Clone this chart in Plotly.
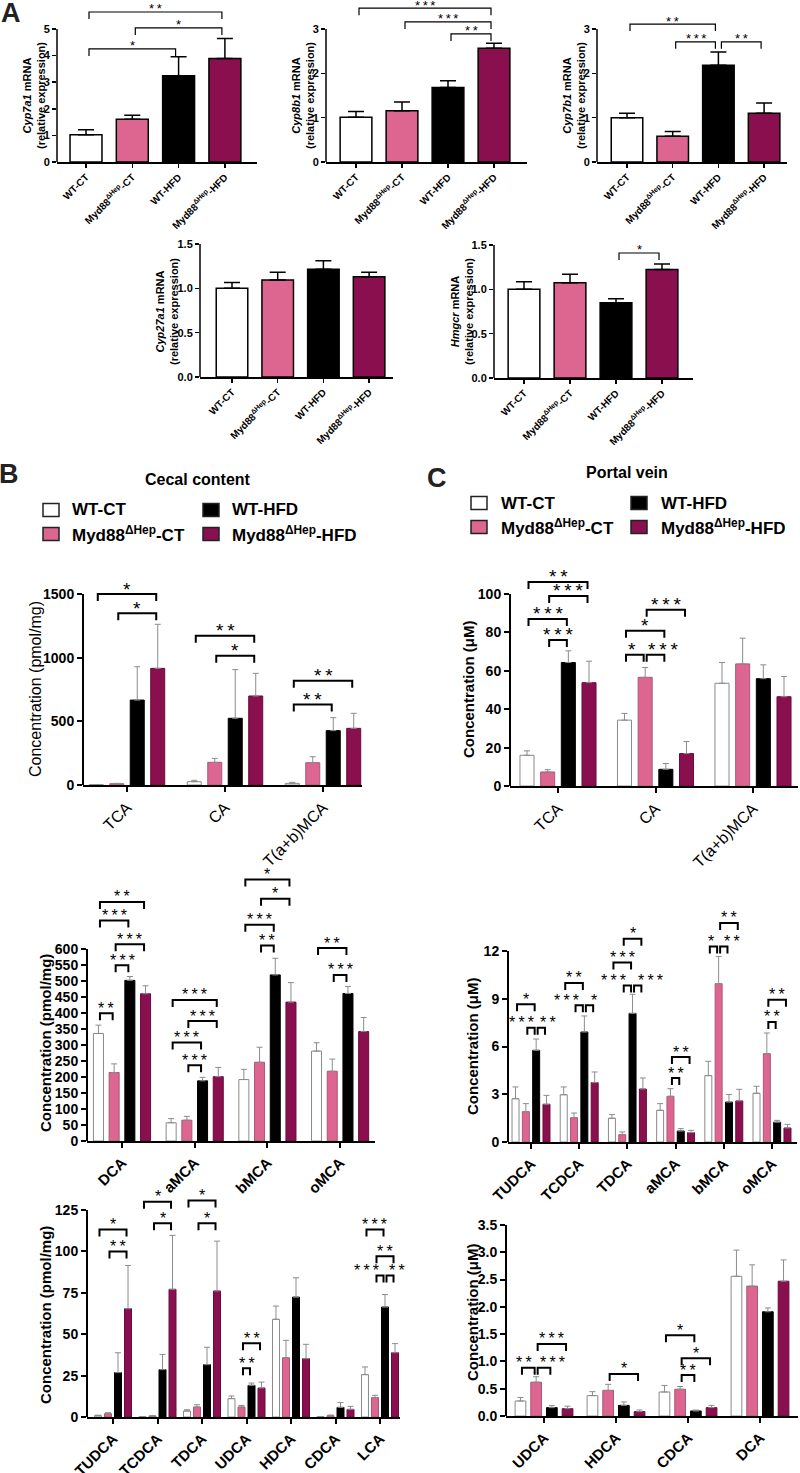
import plotly.graph_objects as go

W, H = 800, 1473
FONT = "Liberation Sans, Arial, Helvetica, sans-serif"

# ---------------- data ----------------
series_names = ["WT-CT", "Myd88ΔHep-CT", "WT-HFD", "Myd88ΔHep-HFD"]
series_ticks = ["WT-CT", "Myd88<sup>ΔHep</sup>-CT", "WT-HFD", "Myd88<sup>ΔHep</sup>-HFD"]
fill_colors = ["#ffffff", "#dd6690", "#000000", "#8a0f4e"]
edge_colors_bc = ["#8a8a8a", "#a8587a", "#000000", "#6a0b3c"]

# Panel A: relative mRNA expression (mean, SEM), significance (i, j, height, label)
cyp7a1_mean = [1.02, 1.61, 3.24, 3.89]
cyp7a1_sem = [0.19, 0.15, 0.72, 0.75]
cyp7a1_sig = [(0, 3, 5.64, "**"), (1, 3, 5.04, "*"), (0, 2, 4.25, "*")]

cyp8b1_mean = [1.01, 1.155, 1.68, 2.565]
cyp8b1_sem = [0.13, 0.20, 0.15, 0.115]
cyp8b1_sig = [(0, 3, 3.47, "***"), (1, 3, 3.16, "***"), (2, 3, 2.89, "**")]

cyp7b1_mean = [1.00, 0.58, 2.18, 1.10]
cyp7b1_sem = [0.10, 0.11, 0.30, 0.23]
cyp7b1_sig = [(0, 2, 3.11, "**"), (1, 2, 2.71, "***"), (2, 3, 2.71, "**")]

cyp27a1_mean = [1.00, 1.095, 1.215, 1.13]
cyp27a1_sem = [0.065, 0.085, 0.095, 0.05]
cyp27a1_sig = []

hmgcr_mean = [1.00, 1.074, 0.848, 1.225]
hmgcr_sem = [0.085, 0.096, 0.045, 0.06]
hmgcr_sig = [(2, 3, 1.41, "*")]

# Panel B/C: bile acids; significance (group, series_a, series_b, height, label, label_dx_px)
cecal1_cats = ["TCA", "CA", "T(a+b)MCA"]
cecal1_wt_ct = [3, 26, 13]
cecal1_wt_ct_sem = [1, 11, 8]
cecal1_myd_ct = [10, 178, 175]
cecal1_myd_ct_sem = [3, 31, 47]
cecal1_wt_hfd = [667, 524, 427]
cecal1_wt_hfd_sem = [262, 382, 102]
cecal1_myd_hfd = [916, 699, 445]
cecal1_myd_hfd_sem = [346, 178, 118]
cecal1_sig = [(0, 0, 3, 1500, "*", 0), (0, 1, 3, 1348, "*", 0), (1, 0, 3, 1173, "**", 0),
              (1, 1, 3, 1016, "*", 0), (2, 0, 3, 819, "**", 0), (2, 0, 2, 633, "**", 0)]

portal1_cats = ["TCA", "CA", "T(a+b)MCA"]
portal1_wt_ct = [16.0, 34.3, 53.5]
portal1_wt_ct_sem = [2.3, 3.5, 10.8]
portal1_myd_ct = [7.3, 56.6, 63.6]
portal1_myd_ct_sem = [1.2, 5.1, 13.4]
portal1_wt_hfd = [64.3, 8.7, 55.9]
portal1_wt_hfd_sem = [6.1, 3.0, 7.2]
portal1_myd_hfd = [53.8, 16.9, 46.5]
portal1_myd_hfd_sem = [11.2, 6.3, 10.5]
portal1_sig = [(0, 0, 3, 106.3, "**", 0), (0, 1, 3, 99.0, "***", 0), (0, 0, 2, 87.0, "***", 0),
               (0, 1, 2, 76.1, "***", 0), (1, 1, 3, 91.8, "***", 0), (1, 0, 2, 80.8, "*", 0),
               (1, 0, 1, 68.3, "*", -3), (1, 1, 2, 68.3, "***", 7)]

cecal2_cats = ["DCA", "aMCA", "bMCA", "oMCA"]
cecal2_wt_ct = [336, 57, 192, 281]
cecal2_wt_ct_sem = [26, 13, 32, 26]
cecal2_myd_ct = [214, 65, 246, 218]
cecal2_myd_ct_sem = [27, 12, 47, 38]
cecal2_wt_hfd = [502, 188, 519, 461]
cecal2_wt_hfd_sem = [12, 11, 52, 22]
cecal2_myd_hfd = [460, 201, 434, 342]
cecal2_myd_hfd_sem = [25, 29, 61, 44]
cecal2_sig = [(0, 0, 3, 747, "**", 0), (0, 0, 2, 689, "***", 0), (0, 1, 3, 615, "***", 0),
              (0, 1, 2, 549, "***", 0), (0, 0, 1, 399, "**", 0),
              (1, 0, 3, 441, "***", 0), (1, 1, 3, 375, "***", 0), (1, 0, 2, 308, "***", 0),
              (1, 1, 2, 237, "***", 0),
              (2, 0, 3, 817, "*", 0), (2, 1, 3, 757, "*", 0), (2, 0, 2, 676, "***", 0),
              (2, 1, 2, 611, "**", 0),
              (3, 0, 2, 603, "**", 0), (3, 1, 2, 519, "***", 0)]

portal2_cats = ["TUDCA", "TCDCA", "TDCA", "aMCA", "bMCA", "oMCA"]
portal2_wt_ct = [2.72, 2.97, 1.49, 1.99, 4.17, 3.06]
portal2_wt_ct_sem = [0.74, 0.49, 0.23, 0.42, 0.90, 0.44]
portal2_myd_ct = [1.91, 1.53, 0.46, 2.87, 9.95, 5.55]
portal2_myd_ct_sem = [0.50, 0.29, 0.17, 0.48, 1.71, 1.30]
portal2_wt_hfd = [5.76, 6.91, 8.08, 0.69, 2.51, 1.24]
portal2_wt_hfd_sem = [0.71, 1.01, 1.20, 0.15, 0.48, 0.12]
portal2_myd_hfd = [2.37, 3.73, 3.33, 0.59, 2.58, 0.88]
portal2_myd_hfd_sem = [0.56, 0.67, 0.69, 0.14, 0.73, 0.23]
portal2_sig = [(0, 0, 2, 8.65, "*", 0), (0, 1, 2, 7.18, "***", -10), (0, 2, 3, 7.18, "**", 7),
               (1, 0, 2, 9.99, "**", 0), (1, 1, 2, 8.59, "***", -13), (1, 2, 3, 8.59, "*", 4),
               (2, 1, 3, 12.77, "*", 0), (2, 0, 2, 11.27, "***", 0), (2, 1, 2, 9.84, "***", -14),
               (2, 2, 3, 9.84, "***", 13),
               (3, 1, 3, 5.34, "**", 0), (3, 1, 2, 4.02, "**", 0),
               (4, 1, 3, 13.76, "**", 0), (4, 0, 1, 12.29, "*", -2), (4, 1, 2, 12.29, "**", 8),
               (5, 1, 3, 8.94, "**", 0), (5, 1, 2, 7.54, "**", 0)]

cecal3_cats = ["TUDCA", "TCDCA", "TDCA", "UDCA", "HDCA", "CDCA", "LCA"]
cecal3_wt_ct = [0.8, 0.2, 3.6, 11.1, 59.0, 0.2, 25.6]
cecal3_wt_ct_sem = [0.3, 0.1, 0.8, 1.6, 8.0, 0.1, 4.6]
cecal3_myd_ct = [2.0, 0.6, 6.0, 6.0, 35.8, 0.8, 11.7]
cecal3_myd_ct_sem = [0.6, 0.2, 1.4, 1.0, 10.5, 0.4, 1.4]
cecal3_wt_hfd = [26.8, 28.6, 31.6, 19.1, 72.4, 5.8, 66.4]
cecal3_wt_hfd_sem = [12.0, 9.2, 10.5, 1.4, 11.7, 2.9, 7.6]
cecal3_myd_hfd = [65.4, 77.1, 76.1, 17.5, 35.2, 4.6, 38.8]
cecal3_myd_hfd_sem = [26.1, 32.6, 30.1, 3.6, 8.7, 1.8, 5.5]
cecal3_sig = [(0, 0, 3, 113.3, "*", 0), (0, 1, 3, 100.0, "**", 0),
              (1, 0, 3, 130.0, "*", 0), (1, 1, 3, 117.0, "*", 0),
              (2, 0, 3, 130.7, "*", 0), (2, 1, 3, 117.0, "*", 0),
              (3, 1, 3, 44.6, "**", 0), (3, 1, 2, 29.5, "**", 0),
              (6, 0, 2, 113.3, "***", 0), (6, 1, 3, 97.0, "**", 0), (6, 1, 2, 85.5, "***", -14),
              (6, 2, 3, 85.5, "**", 7)]

portal3_cats = ["UDCA", "HDCA", "CDCA", "DCA"]
portal3_wt_ct = [0.275, 0.373, 0.44, 2.56]
portal3_wt_ct_sem = [0.065, 0.073, 0.12, 0.48]
portal3_myd_ct = [0.62, 0.47, 0.49, 2.38]
portal3_myd_ct_sem = [0.10, 0.11, 0.05, 0.39]
portal3_wt_hfd = [0.153, 0.195, 0.092, 1.91]
portal3_wt_hfd_sem = [0.037, 0.062, 0.018, 0.07]
portal3_myd_hfd = [0.134, 0.08, 0.153, 2.47]
portal3_myd_hfd_sem = [0.046, 0.03, 0.042, 0.39]
portal3_sig = [(0, 1, 3, 1.32, "***", 0), (0, 0, 1, 0.886, "**", -4), (0, 1, 2, 0.886, "***", 8),
               (1, 1, 3, 0.77, "*", 0),
               (2, 0, 2, 1.48, "*", 0), (2, 1, 3, 1.06, "*", 0), (2, 1, 2, 0.75, "**", 0)]

# ---------------- layout helpers ----------------
fig = go.Figure()
layout_axes = {}
shapes = []
annots = []


def refs(n):
    s = "" if n == 1 else str(n)
    return "x" + s, "y" + s, "xaxis" + s, "yaxis" + s


def make_axes(n, box, yticks, ytickfmt, xticks_text, tickfont_y, tickfont_x, lw, tl):
    xr, yr, xk, yk = refs(n)
    ppu = (box["y0"] - box["tpx"]) / box["tmax"]
    yext = (box["y0"] - box["top"]) / ppu
    xrange = [(box["left"] - box["c0"]) / box["step"], (box["right"] - box["c0"]) / box["step"]]
    layout_axes[xk] = dict(
        domain=[box["left"] / W, box["right"] / W], range=xrange, anchor=yr,
        showline=True, linecolor="black", linewidth=lw, ticks="outside", ticklen=tl,
        tickwidth=lw, tickcolor="black", tickvals=list(range(len(xticks_text))),
        ticktext=xticks_text, tickangle=-45, tickfont=tickfont_x, showgrid=False,
        zeroline=False, fixedrange=True, automargin=False)
    layout_axes[yk] = dict(
        domain=[1 - box["y0"] / H, 1 - box["top"] / H], range=[0, yext], anchor=xr,
        showline=False, ticks="outside", ticklen=tl, tickwidth=lw, tickcolor="black",
        tickvals=yticks, ticktext=[ytickfmt.format(v) for v in yticks], tickfont=tickfont_y,
        showgrid=False, zeroline=False, fixedrange=True, automargin=False)
    # y axis line only up to the top tick
    shapes.append(dict(type="line", xref=xr + " domain", yref=yr, x0=0, x1=0, y0=0,
                       y1=box["tmax"], line=dict(color="black", width=lw)))
    return ppu


def bracket(n, xl, xr_, yb, drop, label, dx, fsize, lw, yshift):
    xr, yr, _, _ = refs(n)
    shapes.append(dict(type="path", xref=xr, yref=yr,
                       path=f"M {xl},{yb - drop} L {xl},{yb} L {xr_},{yb} L {xr_},{yb - drop}",
                       line=dict(color="black", width=lw)))
    annots.append(dict(xref=xr, yref=yr, x=(xl + xr_) / 2, y=yb, text="\u2009".join(label),
                       showarrow=False, xanchor="center", yanchor="middle", yshift=yshift,
                       xshift=dx, font=dict(size=fsize, color="black", family=FONT)))


def ytitle(text, px, py, size, bold=True):
    annots.append(dict(xref="paper", yref="paper", x=px / W, y=1 - py / H, text=text,
                       textangle=-90, showarrow=False, xanchor="center", yanchor="middle",
                       font=dict(size=size, color="black", family=FONT,
                                 weight="bold" if bold else "normal")))


# ---------------- Panel A ----------------
panelsA = [
    (1, "Cyp7a1", cyp7a1_mean, cyp7a1_sem, cyp7a1_sig, [0, 1, 2, 3, 4, 5], "{:d}",
     dict(left=57, right=257, y0=162, tpx=29, tmax=5, top=6, c0=86, step=46.3), (34, 96)),
    (2, "Cyp8b1", cyp8b1_mean, cyp8b1_sem, cyp8b1_sig, [0, 1, 2, 3], "{:d}",
     dict(left=326, right=527, y0=162, tpx=29, tmax=3, top=4, c0=356, step=46), (303, 96)),
    (3, "Cyp7b1", cyp7b1_mean, cyp7b1_sem, cyp7b1_sig, [0, 1, 2, 3], "{:d}",
     dict(left=597, right=787, y0=162, tpx=29, tmax=3, top=16, c0=627, step=45.7), (574, 96)),
    (4, "Cyp27a1", cyp27a1_mean, cyp27a1_sem, cyp27a1_sig, [0, 0.5, 1.0, 1.5], "{:.1f}",
     dict(left=200, right=393, y0=377, tpx=244, tmax=1.5, top=242, c0=232, step=45.7), (167, 312)),
    (5, "Hmgcr", hmgcr_mean, hmgcr_sem, hmgcr_sig, [0, 0.5, 1.0, 1.5], "{:.1f}",
     dict(left=494, right=693, y0=378, tpx=245, tmax=1.5, top=243, c0=524, step=46), (462, 312)),
]

for n, gene, mean, sem, sig, yt, fmt, box, tpos in panelsA:
    xr, yr, _, _ = refs(n)
    ppu = make_axes(n, box, yt, fmt, ["<b>" + t + "</b>" for t in series_ticks],
                    dict(size=11, family=FONT, color="black", weight="bold"),
                    dict(size=10, family=FONT, color="black"), 1.5, 4)
    fig.add_trace(go.Bar(
        x=list(range(len(mean))), y=mean, width=0.69, xaxis=xr, yaxis=yr,
        marker=dict(color=fill_colors, line=dict(color="black", width=1.5)),
        error_y=dict(type="data", array=sem, arrayminus=[0] * len(sem), symmetric=False,
                     color="black", thickness=1.5, width=8),
        showlegend=False, hoverinfo="skip"))
    inset = 3 / box["step"]
    for (i, j, yb, lab) in sig:
        bracket(n, i + inset, j - inset, yb, 7 / ppu, lab, 0, 13, 1.2, 3)
    ytitle(f"<i>{gene}</i> mRNA<br>(relative expression)", tpos[0], tpos[1], 11)

# ---------------- Panels B and C ----------------
panelsBC = [
    (6, cecal1_cats,
     [cecal1_wt_ct, cecal1_myd_ct, cecal1_wt_hfd, cecal1_myd_hfd],
     [cecal1_wt_ct_sem, cecal1_myd_ct_sem, cecal1_wt_hfd_sem, cecal1_myd_hfd_sem],
     cecal1_sig, [0, 500, 1000, 1500], "{:d}",
     dict(left=83, right=362, y0=785, tpx=594, tmax=1500, top=586, c0=127, step=98, sp=0.209, bw=0.143),
     ("Concentration (pmol/mg)", 35, 689, 16, False), False, 16, 19),
    (7, portal1_cats,
     [portal1_wt_ct, portal1_myd_ct, portal1_wt_hfd, portal1_myd_hfd],
     [portal1_wt_ct_sem, portal1_myd_ct_sem, portal1_wt_hfd_sem, portal1_myd_hfd_sem],
     portal1_sig, [0, 20, 40, 60, 80, 100], "{:d}",
     dict(left=510, right=798, y0=786, tpx=594, tmax=100, top=578, c0=558, step=97.5, sp=0.212, bw=0.144),
     ("Concentration (μM)", 468, 689, 15, True), False, 16, 19),
    (8, cecal2_cats,
     [cecal2_wt_ct, cecal2_myd_ct, cecal2_wt_hfd, cecal2_myd_hfd],
     [cecal2_wt_ct_sem, cecal2_myd_ct_sem, cecal2_wt_hfd_sem, cecal2_myd_hfd_sem],
     cecal2_sig, list(range(0, 601, 50)), "{:d}",
     dict(left=87, right=375, y0=1141, tpx=949, tmax=600, top=876, c0=122, step=72.7, sp=0.216, bw=0.138),
     ("Concentration (pmol/mg)", 45, 1043, 15, True), True, 15, 16),
    (9, portal2_cats,
     [portal2_wt_ct, portal2_myd_ct, portal2_wt_hfd, portal2_myd_hfd],
     [portal2_wt_ct_sem, portal2_myd_ct_sem, portal2_wt_hfd_sem, portal2_myd_hfd_sem],
     portal2_sig, [0, 3, 6, 9, 12], "{:d}",
     dict(left=508, right=797, y0=1142, tpx=951, tmax=12, top=918, c0=531, step=48.2, sp=0.214, bw=0.145),
     ("Concentration (μM)", 472, 1046, 15, True), True, 15, 16),
    (10, cecal3_cats,
     [cecal3_wt_ct, cecal3_myd_ct, cecal3_wt_hfd, cecal3_myd_hfd],
     [cecal3_wt_ct_sem, cecal3_myd_ct_sem, cecal3_wt_hfd_sem, cecal3_myd_hfd_sem],
     cecal3_sig, [0, 25, 50, 75, 100, 125], "{:d}",
     dict(left=87, right=400, y0=1417, tpx=1210, tmax=125, top=1195, c0=113, step=44.5, sp=0.225, bw=0.157),
     ("Concentration (pmol/mg)", 45, 1315, 15, True), True, 15, 16),
    (11, portal3_cats,
     [portal3_wt_ct, portal3_myd_ct, portal3_wt_hfd, portal3_myd_hfd],
     [portal3_wt_ct_sem, portal3_myd_ct_sem, portal3_wt_hfd_sem, portal3_myd_hfd_sem],
     portal3_sig, [0, 0.5, 1.0, 1.5, 2.0, 2.5, 3.0, 3.5], "{:.1f}",
     dict(left=506, right=798, y0=1416, tpx=1225, tmax=3.5, top=1222, c0=544, step=72, sp=0.218, bw=0.149),
     ("Concentration (μM)", 472, 1312, 15, True), True, 15, 16),
]

for n, cats, vals, sems, sig, yt, fmt, box, title, boldx, xfs, sfs in panelsBC:
    xr, yr, _, _ = refs(n)
    ppu = make_axes(n, box, yt, fmt, cats,
                    dict(size=14, family=FONT, color="black", weight="bold"),
                    dict(size=xfs, family=FONT, color="black", weight="bold" if boldx else "normal"),
                    2, 5)
    sp, bw = box["sp"], box["bw"]
    for k in range(4):
        fig.add_trace(go.Bar(
            x=[g + (k - 1.5) * sp for g in range(len(cats))], y=vals[k], width=bw,
            xaxis=xr, yaxis=yr, name=series_names[k],
            marker=dict(color=fill_colors[k], line=dict(color=edge_colors_bc[k], width=1)),
            error_y=dict(type="data", array=sems[k], arrayminus=[0] * len(cats), symmetric=False,
                         color="#8c8c8c", thickness=1, width=3),
            showlegend=False, hoverinfo="skip"))
    inset = 1.5 / box["step"]
    for (g, a, b, yb, lab, dx) in sig:
        xl = g + (a - 1.5) * sp + inset
        xrr = g + (b - 1.5) * sp - inset
        bracket(n, xl, xrr, yb, 7 / ppu, lab, dx, sfs, 2, 5)
    ytitle(title[0], title[1], title[2], title[3], title[4])

# ---------------- legends, titles, panel letters ----------------
legend_sets = [
    dict(cols=[51, 211], rows=[510, 534], tx=[70, 230], title="Cecal content", tpos=(198, 479)),
    dict(cols=[479, 639], rows=[503, 527], tx=[499, 659], title="Portal vein", tpos=(627, 473)),
]
for lg in legend_sets:
    for k in range(4):
        c, r = k // 2, k % 2
        cx, cy = lg["cols"][c], lg["rows"][r]
        shapes.append(dict(type="rect", xref="paper", yref="paper",
                           x0=(cx - 8) / W, x1=(cx + 8) / W, y0=1 - (cy + 6.5) / H, y1=1 - (cy - 6.5) / H,
                           fillcolor=fill_colors[k], line=dict(color="#222222", width=1.5)))
        annots.append(dict(xref="paper", yref="paper", x=lg["tx"][c] / W, y=1 - cy / H,
                           text=series_ticks[k], showarrow=False, xanchor="left", yanchor="middle",
                           font=dict(size=17, family=FONT, color="black", weight="bold")))
    annots.append(dict(xref="paper", yref="paper", x=lg["tpos"][0] / W, y=1 - lg["tpos"][1] / H,
                       text=lg["title"], showarrow=False, xanchor="center", yanchor="middle",
                       font=dict(size=16, family=FONT, color="black", weight="bold")))

for letter, lx, ly in [("A", 11, 13), ("B", 9, 474), ("C", 437, 478)]:
    annots.append(dict(xref="paper", yref="paper", x=lx / W, y=1 - ly / H, text=letter,
                       showarrow=False, xanchor="center", yanchor="middle",
                       font=dict(size=27, family=FONT, color="#222222", weight="bold")))

fig.update_layout(
    template="none",
    width=W, height=H, autosize=False, margin=dict(l=0, r=0, t=0, b=0, pad=0, autoexpand=False),
    paper_bgcolor="white", plot_bgcolor="white", barmode="overlay", showlegend=False,
    font=dict(family=FONT, color="black"),
    shapes=shapes, annotations=annots, **layout_axes)

fig.write_html("out.html", config={"displayModeBar": False, "staticPlot": True},
               post_script="document.body.style.margin='0px';document.body.style.overflow='hidden';")
